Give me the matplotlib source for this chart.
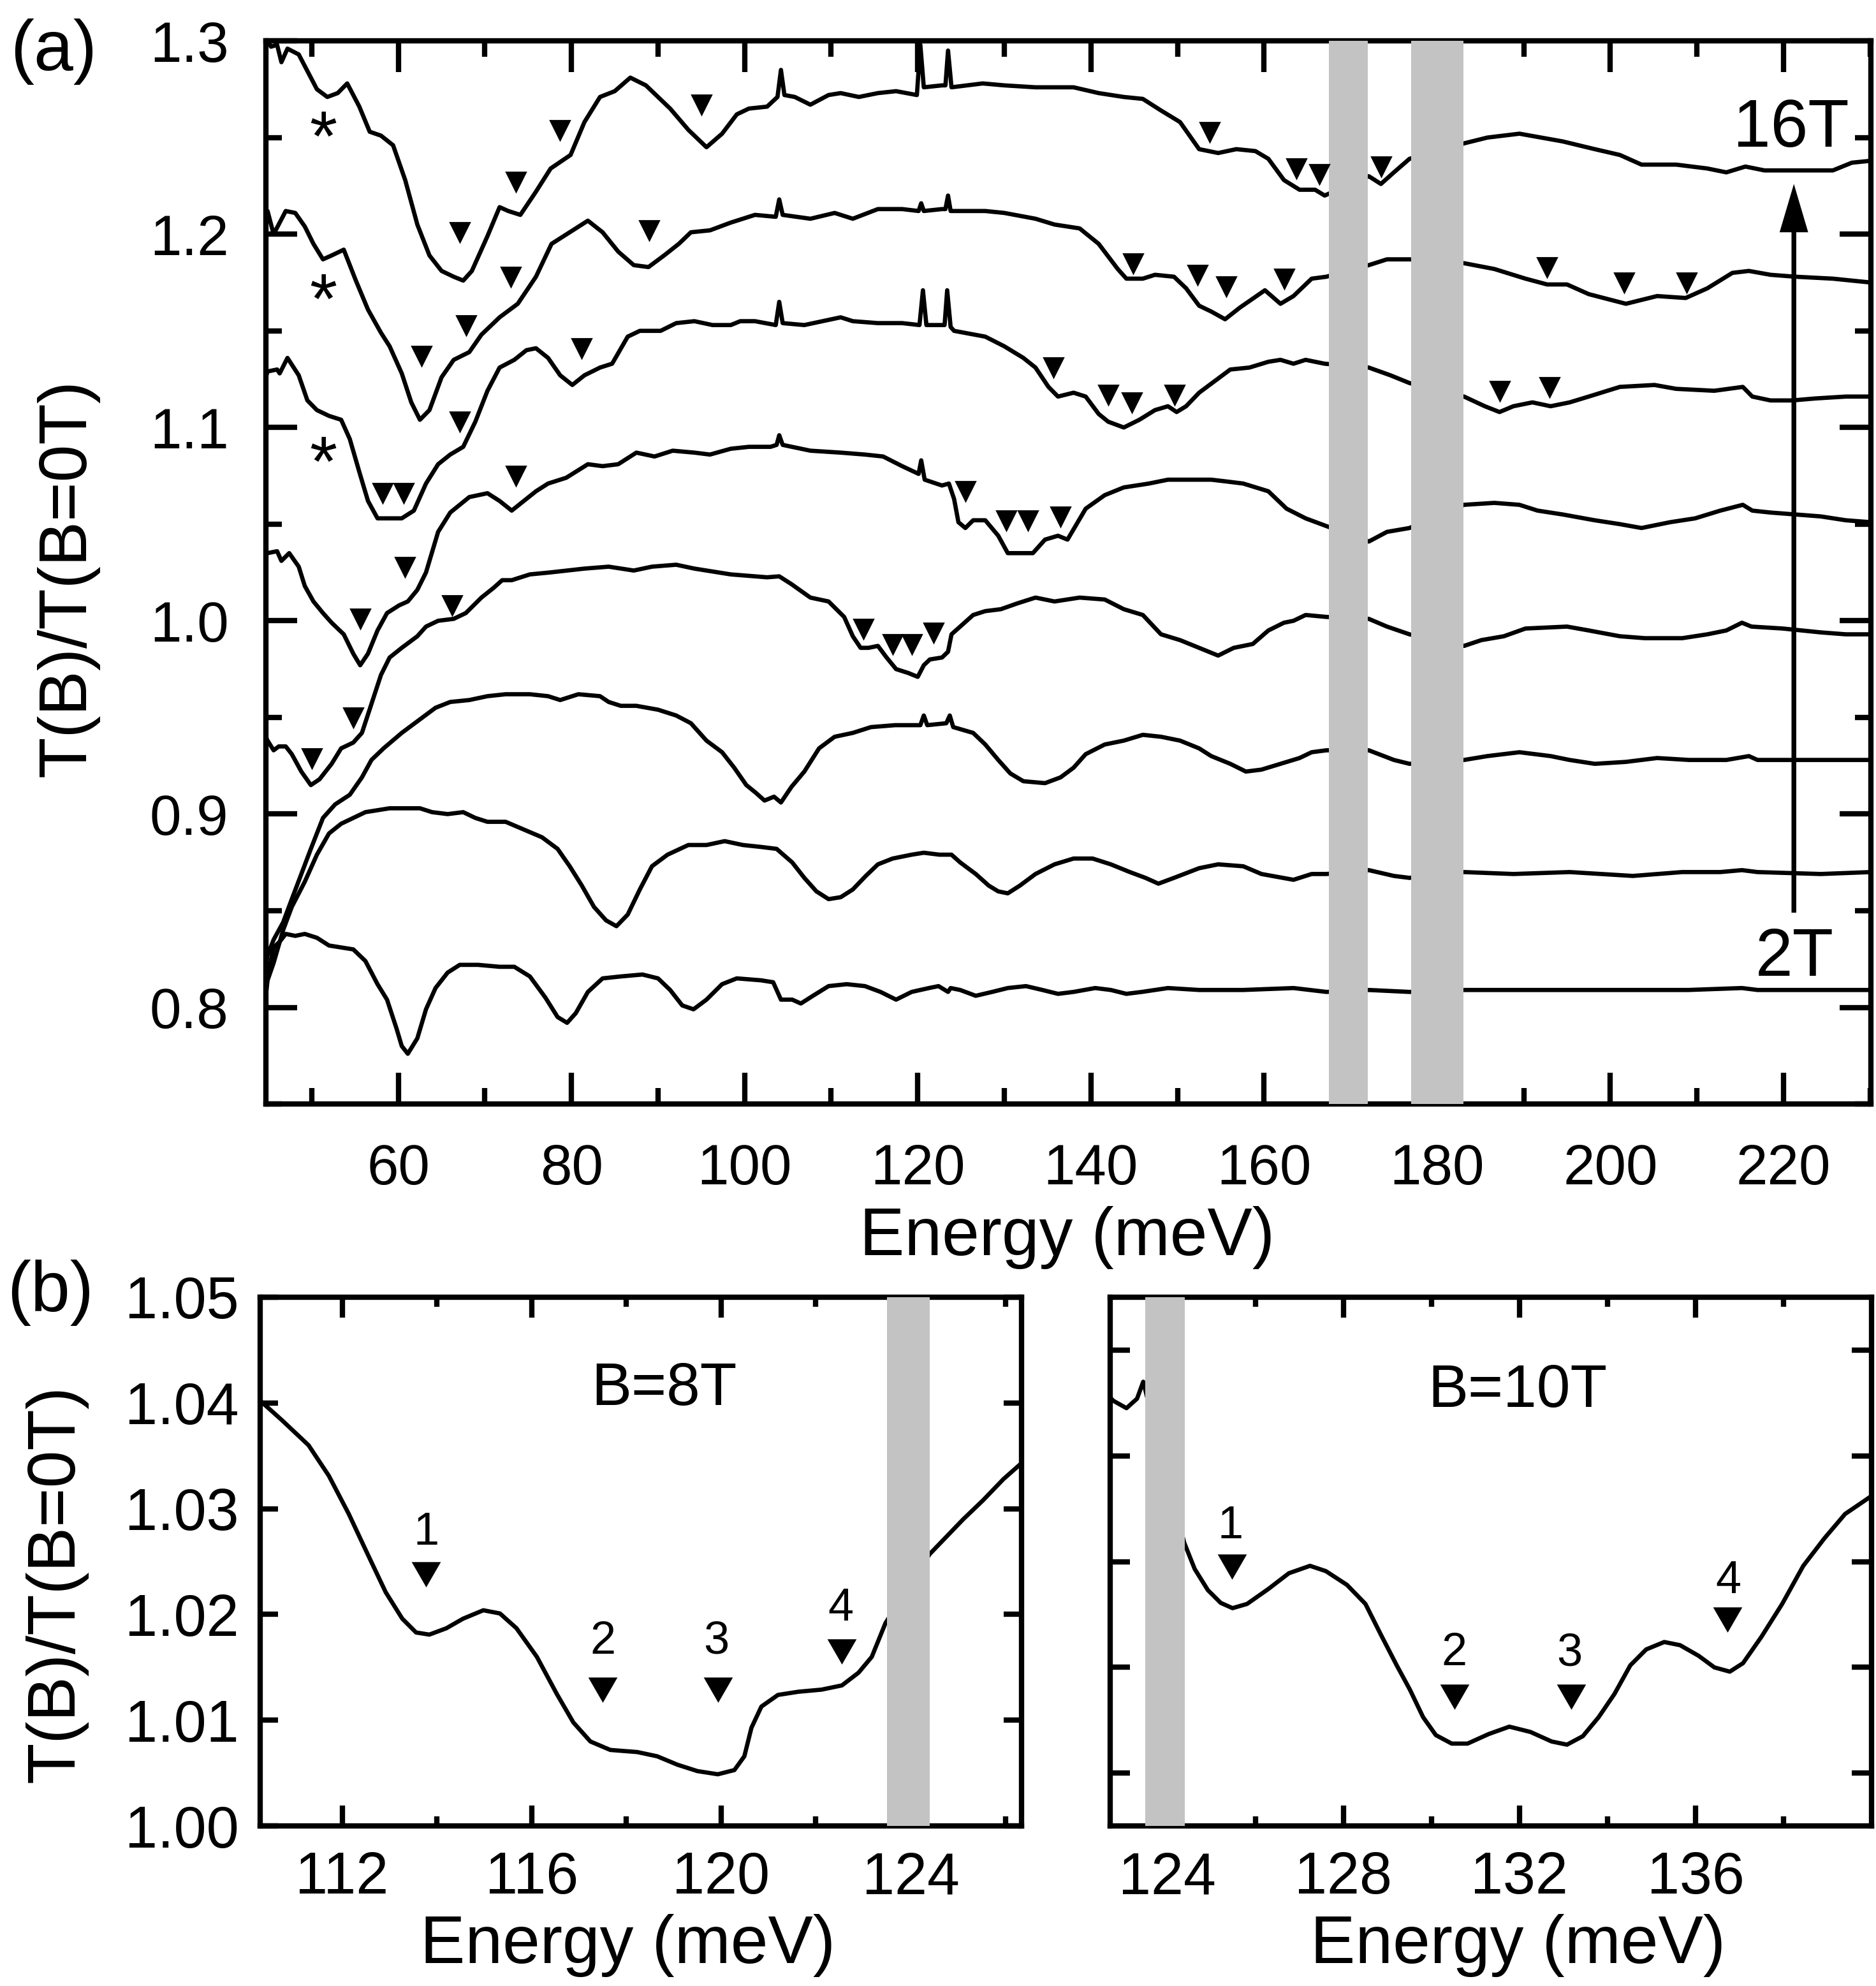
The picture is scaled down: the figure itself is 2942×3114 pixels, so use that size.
import matplotlib.pyplot as plt
from matplotlib.ticker import MultipleLocator, FormatStrFormatter

plt.rcParams['font.family'] = ['Liberation Sans', 'DejaVu Sans']

# ---- panel (a): T(B)/T(B=0T) vs energy (meV), traces stacked
trace_16T = [(44.7, 1.302), (45.3, 1.297), (46.0, 1.298), (46.5, 1.289), (47.2, 1.296), (48.5, 1.293),
             (50.6, 1.275), (51.8, 1.271), (53.0, 1.273), (54.1, 1.278), (55.5, 1.266), (56.7, 1.253),
             (58.0, 1.251), (59.4, 1.246), (60.8, 1.228), (62.2, 1.205), (63.6, 1.189), (65.0, 1.181),
             (66.4, 1.178), (67.5, 1.176), (68.5, 1.181), (70.3, 1.199), (71.7, 1.214), (72.7, 1.212),
             (74.1, 1.210), (75.9, 1.222), (77.6, 1.234), (79.9, 1.241), (81.5, 1.258), (83.3, 1.271),
             (85.0, 1.274), (86.8, 1.281), (88.6, 1.277), (91.4, 1.265), (93.5, 1.254), (95.6, 1.245),
             (97.4, 1.252), (99.1, 1.262), (100.5, 1.265), (102.6, 1.266), (103.8, 1.271), (104.2, 1.285),
             (104.6, 1.272), (105.8, 1.271), (107.6, 1.267), (109.7, 1.272), (111.1, 1.273), (113.2, 1.271),
             (115.4, 1.273), (117.5, 1.274), (119.9, 1.272), (120.3, 1.298), (120.7, 1.276), (122.8, 1.277),
             (123.2, 1.277), (123.5, 1.295), (123.9, 1.276), (127.5, 1.278), (130.0, 1.277), (133.6, 1.276),
             (138.0, 1.276), (140.9, 1.273), (143.8, 1.271), (146.0, 1.270), (148.1, 1.264), (150.3, 1.258),
             (152.5, 1.244), (154.7, 1.242), (156.8, 1.244), (159.0, 1.243), (160.5, 1.239), (162.3, 1.228),
             (164.1, 1.223), (165.9, 1.223), (167.0, 1.220), (172.1, 1.230), (173.5, 1.226), (175.0, 1.232),
             (176.8, 1.239), (183.1, 1.247), (185.8, 1.250), (189.5, 1.252), (194.5, 1.248), (198.2, 1.244),
             (201.1, 1.241), (203.6, 1.236), (207.6, 1.236), (211.2, 1.234), (213.4, 1.232), (215.6, 1.235),
             (217.8, 1.233), (221.4, 1.233), (225.7, 1.233), (227.9, 1.237), (230.1, 1.238)]

trace_14T = [(44.7, 1.205), (44.9, 1.212), (45.6, 1.200), (46.3, 1.206), (47.0, 1.212), (48.1, 1.211),
             (49.2, 1.204), (50.2, 1.195), (51.3, 1.187), (52.3, 1.189), (53.7, 1.192), (55.1, 1.176),
             (56.5, 1.161), (58.0, 1.149), (59.0, 1.142), (60.4, 1.128), (61.5, 1.113), (62.5, 1.104),
             (63.6, 1.109), (65.0, 1.126), (66.4, 1.135), (68.2, 1.139), (69.6, 1.148), (71.7, 1.157),
             (73.8, 1.164), (75.9, 1.178), (77.7, 1.195), (79.8, 1.201), (81.9, 1.207), (83.6, 1.201),
             (85.4, 1.191), (87.2, 1.184), (88.9, 1.183), (90.7, 1.189), (92.4, 1.195), (93.8, 1.201),
             (96.0, 1.202), (98.4, 1.206), (101.2, 1.210), (103.6, 1.209), (104.0, 1.218), (104.4, 1.210),
             (107.6, 1.208), (110.4, 1.211), (112.5, 1.208), (115.4, 1.213), (118.2, 1.213), (120.1, 1.212),
             (120.4, 1.216), (120.7, 1.212), (122.8, 1.213), (123.2, 1.213), (123.5, 1.220), (123.8, 1.212),
             (127.8, 1.212), (130.0, 1.211), (133.6, 1.208), (135.8, 1.205), (138.7, 1.203), (140.9, 1.195),
             (143.1, 1.182), (144.1, 1.177), (146.0, 1.177), (147.4, 1.179), (149.6, 1.178), (151.0, 1.172),
             (152.5, 1.163), (153.9, 1.160), (155.5, 1.156), (157.2, 1.162), (160.1, 1.171), (161.9, 1.164),
             (163.4, 1.168), (165.5, 1.177), (167.2, 1.178), (172.1, 1.184), (174.2, 1.187), (176.8, 1.187),
             (183.1, 1.185), (186.6, 1.182), (190.2, 1.177), (192.7, 1.174), (195.0, 1.174), (197.5, 1.169),
             (201.8, 1.164), (205.4, 1.168), (208.7, 1.167), (211.2, 1.172), (214.1, 1.180), (216.0, 1.181),
             (218.5, 1.179), (221.4, 1.178), (225.7, 1.177), (230.1, 1.175)]

trace_12T = [(44.7, 1.126), (44.9, 1.129), (46.0, 1.130), (46.3, 1.128), (47.2, 1.136), (48.5, 1.127),
             (49.5, 1.114), (50.6, 1.109), (52.0, 1.106), (53.4, 1.104), (54.4, 1.094), (55.5, 1.077),
             (56.5, 1.062), (57.6, 1.053), (60.4, 1.053), (61.8, 1.057), (63.2, 1.071), (64.6, 1.081),
             (66.0, 1.086), (67.5, 1.090), (68.9, 1.103), (70.3, 1.119), (71.7, 1.131), (73.4, 1.135),
             (74.8, 1.140), (75.9, 1.141), (77.3, 1.136), (78.7, 1.127), (80.1, 1.122), (81.5, 1.127),
             (83.3, 1.131), (84.7, 1.133), (86.5, 1.147), (87.9, 1.150), (90.3, 1.150), (92.1, 1.154),
             (94.2, 1.155), (96.3, 1.153), (98.4, 1.153), (99.5, 1.155), (101.2, 1.155), (103.6, 1.153),
             (104.0, 1.165), (104.4, 1.154), (106.9, 1.153), (109.0, 1.155), (111.1, 1.157), (112.5, 1.155),
             (115.4, 1.154), (118.2, 1.154), (120.2, 1.153), (120.6, 1.171), (121.0, 1.153), (122.7, 1.153),
             (123.1, 1.153), (123.4, 1.171), (123.8, 1.152), (124.2, 1.150), (127.8, 1.147), (130.0, 1.142),
             (132.2, 1.136), (133.6, 1.131), (135.1, 1.121), (136.2, 1.116), (138.0, 1.118), (139.4, 1.116),
             (140.9, 1.107), (142.0, 1.103), (143.8, 1.100), (145.6, 1.104), (147.4, 1.109), (148.9, 1.111),
             (149.9, 1.108), (151.0, 1.111), (152.5, 1.118), (154.3, 1.124), (156.1, 1.130), (158.3, 1.131),
             (160.5, 1.134), (161.9, 1.135), (163.4, 1.133), (164.8, 1.135), (167.0, 1.133), (172.1, 1.131),
             (174.6, 1.127), (176.8, 1.123), (183.1, 1.116), (185.5, 1.111), (187.2, 1.108), (188.8, 1.111),
             (191.0, 1.113), (193.1, 1.111), (195.3, 1.113), (197.5, 1.116), (201.1, 1.121), (205.1, 1.122),
             (207.6, 1.120), (212.0, 1.119), (215.3, 1.121), (216.4, 1.116), (218.5, 1.114), (221.0, 1.114),
             (223.6, 1.115), (227.2, 1.116), (230.1, 1.116)]

trace_10T = [(44.7, 1.034), (44.9, 1.035), (46.0, 1.036), (46.5, 1.031), (47.4, 1.035), (48.5, 1.028),
             (49.2, 1.018), (50.2, 1.010), (51.3, 1.004), (52.3, 0.999), (53.7, 0.993), (54.8, 0.983),
             (55.6, 0.977), (56.5, 0.983), (57.6, 0.995), (58.7, 1.004), (60.1, 1.008), (61.1, 1.010),
             (62.2, 1.016), (63.2, 1.025), (64.6, 1.046), (66.0, 1.056), (68.2, 1.064), (70.3, 1.066),
             (71.7, 1.062), (73.1, 1.057), (74.5, 1.062), (75.9, 1.067), (77.3, 1.071), (79.4, 1.074),
             (81.9, 1.081), (83.6, 1.080), (85.4, 1.081), (87.5, 1.087), (89.6, 1.085), (91.7, 1.088),
             (94.2, 1.087), (96.0, 1.086), (98.4, 1.089), (100.5, 1.090), (103.0, 1.090), (103.7, 1.091),
             (104.0, 1.096), (104.4, 1.091), (107.6, 1.088), (111.1, 1.087), (113.9, 1.086), (116.0, 1.085),
             (118.2, 1.080), (120.1, 1.076), (120.4, 1.083), (120.8, 1.073), (122.8, 1.070), (123.6, 1.071),
             (124.2, 1.063), (124.7, 1.051), (125.5, 1.048), (126.4, 1.052), (127.8, 1.052), (129.3, 1.044),
             (130.4, 1.035), (131.8, 1.035), (133.3, 1.035), (134.7, 1.042), (136.2, 1.044), (137.3, 1.042),
             (139.4, 1.058), (141.6, 1.065), (143.8, 1.069), (146.7, 1.071), (148.9, 1.073), (151.0, 1.073),
             (153.9, 1.073), (155.8, 1.072), (157.6, 1.071), (160.5, 1.067), (162.6, 1.058), (164.8, 1.053),
             (167.2, 1.049), (172.1, 1.041), (174.2, 1.046), (176.8, 1.048), (183.1, 1.060), (186.6, 1.061),
             (189.5, 1.060), (191.6, 1.057), (194.5, 1.055), (198.2, 1.052), (201.1, 1.050), (203.6, 1.048),
             (206.9, 1.051), (209.8, 1.053), (212.7, 1.057), (215.3, 1.060), (216.4, 1.057), (218.5, 1.056),
             (221.4, 1.055), (224.3, 1.054), (227.2, 1.052), (230.1, 1.051)]

trace_8T = [(44.7, 0.940), (44.9, 0.938), (45.6, 0.933), (46.2, 0.935), (47.0, 0.935), (47.7, 0.931),
            (48.8, 0.922), (49.9, 0.915), (50.9, 0.918), (52.3, 0.926), (53.4, 0.934), (54.8, 0.937),
            (55.8, 0.942), (56.9, 0.957), (58.0, 0.972), (59.0, 0.981), (60.4, 0.986), (62.2, 0.992),
            (63.2, 0.997), (64.6, 1.000), (66.4, 1.001), (67.8, 1.004), (69.6, 1.012), (71.0, 1.017),
            (72.0, 1.021), (73.1, 1.021), (75.2, 1.024), (77.5, 1.025), (81.5, 1.027), (84.3, 1.028),
            (87.2, 1.026), (89.3, 1.028), (92.1, 1.029), (94.2, 1.027), (98.4, 1.024), (102.6, 1.0225),
            (104.0, 1.023), (105.4, 1.019), (107.6, 1.012), (109.7, 1.010), (111.5, 1.002), (112.5, 0.992),
            (113.4, 0.986), (114.3, 0.986), (115.4, 0.987), (116.4, 0.981), (117.5, 0.975), (118.9, 0.973),
            (120.0, 0.971), (120.7, 0.977), (121.4, 0.980), (122.8, 0.981), (123.5, 0.984), (123.9, 0.993),
            (124.9, 0.997), (126.4, 1.003), (127.8, 1.005), (129.6, 1.006), (131.5, 1.009), (133.6, 1.012),
            (135.8, 1.010), (138.7, 1.012), (141.6, 1.011), (143.8, 1.006), (146.0, 1.003), (148.1, 0.993),
            (150.3, 0.990), (152.5, 0.986), (154.7, 0.982), (156.5, 0.986), (158.7, 0.988), (160.5, 0.995),
            (162.3, 0.999), (163.4, 1.000), (164.8, 1.003), (167.2, 1.002), (172.1, 1.001), (174.2, 0.997),
            (176.8, 0.993), (183.1, 0.987), (185.1, 0.990), (187.7, 0.992), (190.2, 0.996), (195.0, 0.997),
            (197.5, 0.995), (201.1, 0.992), (204.0, 0.991), (208.3, 0.991), (211.2, 0.993), (213.4, 0.995),
            (215.2, 0.999), (216.3, 0.997), (219.9, 0.996), (224.3, 0.994), (227.2, 0.993), (230.1, 0.993)]

trace_6T = [(44.7, 0.822), (44.9, 0.827), (45.6, 0.835), (46.7, 0.844), (47.7, 0.856), (48.8, 0.869),
            (49.9, 0.882), (51.3, 0.898), (52.7, 0.905), (54.4, 0.910), (55.8, 0.919), (56.9, 0.928),
            (58.3, 0.934), (60.4, 0.942), (62.5, 0.949), (64.3, 0.955), (66.0, 0.958), (68.2, 0.959),
            (70.3, 0.961), (72.4, 0.962), (75.2, 0.962), (77.3, 0.961), (78.7, 0.959), (80.8, 0.962),
            (83.3, 0.961), (84.3, 0.958), (85.7, 0.956), (87.5, 0.956), (90.0, 0.954), (92.1, 0.951),
            (93.8, 0.947), (95.6, 0.938), (97.4, 0.932), (98.8, 0.924), (100.2, 0.915), (101.3, 0.911),
            (102.3, 0.907), (103.4, 0.909), (104.2, 0.906), (105.4, 0.914), (106.9, 0.922), (108.6, 0.934),
            (110.4, 0.940), (112.5, 0.942), (114.6, 0.945), (117.4, 0.946), (120.3, 0.946), (120.7, 0.951),
            (121.1, 0.946), (123.3, 0.947), (123.7, 0.951), (124.1, 0.945), (126.4, 0.942), (127.8, 0.936),
            (129.3, 0.928), (130.7, 0.921), (132.2, 0.917), (134.7, 0.916), (136.5, 0.919), (138.0, 0.924),
            (139.4, 0.931), (141.6, 0.936), (143.8, 0.938), (146.0, 0.941), (148.1, 0.940), (150.3, 0.938),
            (152.5, 0.934), (153.9, 0.930), (156.1, 0.926), (157.9, 0.922), (159.7, 0.923), (161.9, 0.926),
            (164.1, 0.929), (165.5, 0.932), (167.2, 0.933), (172.1, 0.933), (175.0, 0.928), (176.8, 0.926),
            (183.1, 0.928), (185.8, 0.930), (189.5, 0.932), (193.1, 0.930), (195.3, 0.928), (198.2, 0.926),
            (201.8, 0.927), (205.4, 0.929), (209.1, 0.928), (213.4, 0.928), (216.0, 0.930), (217.0, 0.928),
            (219.9, 0.928), (224.3, 0.928), (230.1, 0.928)]

trace_4T = [(44.7, 0.806), (44.9, 0.814), (45.6, 0.823), (46.7, 0.840), (47.7, 0.852), (49.2, 0.865),
            (50.6, 0.879), (52.0, 0.890), (53.4, 0.895), (54.8, 0.898), (56.2, 0.901), (57.6, 0.902),
            (59.0, 0.903), (60.8, 0.903), (62.5, 0.903), (63.9, 0.901), (65.7, 0.900), (67.5, 0.901),
            (68.9, 0.898), (70.3, 0.896), (72.4, 0.896), (74.5, 0.892), (76.6, 0.888), (78.4, 0.882),
            (79.8, 0.873), (81.2, 0.863), (82.6, 0.852), (84.0, 0.845), (85.2, 0.842), (86.5, 0.848),
            (87.9, 0.861), (89.3, 0.873), (91.1, 0.879), (93.5, 0.884), (95.6, 0.884), (97.7, 0.886),
            (99.8, 0.884), (101.9, 0.883), (103.7, 0.882), (105.5, 0.875), (106.9, 0.867), (108.3, 0.860),
            (109.7, 0.856), (111.1, 0.857), (112.5, 0.861), (114.0, 0.868), (115.4, 0.874), (117.1, 0.877),
            (119.3, 0.879), (120.7, 0.880), (122.5, 0.879), (123.9, 0.879), (124.9, 0.875), (126.7, 0.869),
            (128.2, 0.863), (129.3, 0.860), (130.4, 0.859), (131.8, 0.863), (133.6, 0.869), (135.8, 0.874),
            (138.0, 0.877), (140.2, 0.877), (142.3, 0.874), (144.5, 0.870), (146.3, 0.867), (147.8, 0.864),
            (149.6, 0.867), (152.5, 0.872), (154.7, 0.874), (157.6, 0.873), (159.7, 0.869), (163.4, 0.866),
            (165.5, 0.869), (167.2, 0.869), (172.1, 0.871), (175.0, 0.868), (176.8, 0.867), (183.1, 0.870),
            (188.8, 0.869), (195.3, 0.870), (202.6, 0.868), (208.3, 0.870), (212.7, 0.870), (215.2, 0.871),
            (217.0, 0.870), (224.3, 0.869), (230.1, 0.870)]

trace_2T = [(44.7, 0.808), (44.9, 0.816), (45.6, 0.831), (46.3, 0.834), (47.0, 0.838), (48.1, 0.837),
            (49.2, 0.838), (50.6, 0.836), (52.0, 0.832), (53.4, 0.831), (54.8, 0.830), (56.2, 0.824),
            (57.6, 0.812), (58.7, 0.804), (59.8, 0.789), (60.4, 0.780), (61.1, 0.776), (62.2, 0.784),
            (63.2, 0.799), (64.3, 0.810), (65.7, 0.818), (67.1, 0.822), (69.2, 0.822), (71.7, 0.821),
            (73.4, 0.821), (75.2, 0.816), (77.0, 0.805), (78.4, 0.795), (79.5, 0.792), (80.5, 0.797),
            (81.9, 0.808), (83.6, 0.815), (85.7, 0.816), (88.2, 0.817), (90.0, 0.815), (91.4, 0.809),
            (92.8, 0.801), (94.1, 0.799), (95.6, 0.804), (97.4, 0.812), (99.1, 0.815), (101.9, 0.814),
            (103.3, 0.813), (104.2, 0.804), (105.5, 0.804), (106.5, 0.802), (107.9, 0.806), (109.7, 0.811),
            (111.8, 0.812), (113.9, 0.811), (115.7, 0.808), (117.5, 0.804), (119.3, 0.808), (121.3, 0.810),
            (122.4, 0.811), (123.5, 0.808), (123.8, 0.810), (124.9, 0.809), (126.7, 0.806), (128.6, 0.808),
            (130.4, 0.810), (132.5, 0.811), (134.4, 0.809), (136.2, 0.807), (138.0, 0.808), (140.5, 0.810),
            (142.3, 0.809), (144.1, 0.807), (145.9, 0.808), (148.9, 0.810), (152.5, 0.809), (157.6, 0.809),
            (163.4, 0.810), (167.2, 0.808), (172.1, 0.809), (176.8, 0.808), (183.1, 0.809), (196.7, 0.809),
            (209.0, 0.809), (215.2, 0.810), (217.0, 0.809), (230.1, 0.809)]

traces_a = [trace_2T, trace_4T, trace_6T, trace_8T, trace_10T, trace_12T, trace_14T, trace_16T]

# triangles marking transitions, and the asterisks
tri_a = [(78.7, 1.254), (73.6, 1.227), (67.1, 1.201), (95.0, 1.267), (153.7, 1.253), (163.7, 1.234),
         (166.4, 1.231), (173.5, 1.235),
         (73.0, 1.178), (67.8, 1.153), (62.7, 1.137), (89.0, 1.202), (144.9, 1.185), (152.3, 1.179),
         (155.6, 1.173), (162.3, 1.177), (192.7, 1.183), (201.6, 1.175), (208.8, 1.175),
         (58.2, 1.066), (60.6, 1.066), (67.1, 1.103), (81.2, 1.141), (135.7, 1.131), (142.0, 1.117),
         (144.7, 1.113), (149.7, 1.117), (187.2, 1.119), (193.0, 1.121),
         (55.6, 1.001), (60.8, 1.028), (66.2, 1.008), (73.6, 1.075), (125.5, 1.067), (130.2, 1.052),
         (132.7, 1.052), (136.5, 1.054),
         (50.0, 0.929), (54.8, 0.950), (113.7, 0.996), (117.1, 0.988), (119.3, 0.988), (121.8, 0.994)]
star_a = [(51.3, 1.259), (51.3, 1.175), (51.3, 1.091)]

bands_a = [(167.5, 172.0), (177.0, 183.0)]

# ---- panel (b): zoom on B=8T and B=10T
trace_b8 = [(110.27, 1.0402), (110.72, 1.0384), (111.29, 1.0360), (111.72, 1.0331), (112.14, 1.0295),
            (112.57, 1.0254), (112.92, 1.0221), (113.27, 1.0196), (113.56, 1.0183), (113.84, 1.0181),
            (114.20, 1.0187), (114.55, 1.0196), (114.98, 1.0204), (115.33, 1.0201), (115.68, 1.0187),
            (116.11, 1.0160), (116.53, 1.0125), (116.88, 1.0098), (117.24, 1.0080), (117.66, 1.0072),
            (118.23, 1.0070), (118.65, 1.0066), (119.08, 1.0058), (119.50, 1.0052), (119.93, 1.0049),
            (120.28, 1.0053), (120.49, 1.0066), (120.64, 1.0093), (120.85, 1.0113), (121.20, 1.0124),
            (121.63, 1.0127), (122.12, 1.0129), (122.55, 1.0133), (122.90, 1.0145), (123.18, 1.0160),
            (123.47, 1.0192), (124.40, 1.0257), (124.68, 1.0270), (125.11, 1.0290), (125.53, 1.0308),
            (125.96, 1.0328), (126.34, 1.0343)]
tri_b8 = [(113.77, 1.0242), (117.50, 1.0133), (119.93, 1.0133), (122.55, 1.0169)]
num_b8 = [(113.77, 1.0266), (117.50, 1.0163), (119.90, 1.0163), (122.52, 1.0194)]

trace_b10 = [(122.70, 1.0655), (122.77, 1.0652), (123.07, 1.0645), (123.31, 1.0654), (123.45, 1.0670),
             (124.38, 1.0518), (124.62, 1.0493), (124.92, 1.0473), (125.21, 1.0461), (125.48, 1.0456),
             (125.81, 1.0460), (126.29, 1.0474), (126.76, 1.0489), (127.24, 1.0496), (127.60, 1.0491),
             (128.08, 1.0478), (128.50, 1.0460), (128.85, 1.0431), (129.21, 1.0402), (129.51, 1.0379),
             (129.81, 1.0353), (130.10, 1.0336), (130.46, 1.0328), (130.82, 1.0328), (131.30, 1.0337),
             (131.77, 1.0344), (132.25, 1.0339), (132.73, 1.0330), (133.08, 1.0327), (133.44, 1.0335),
             (133.80, 1.0353), (134.16, 1.0375), (134.52, 1.0402), (134.88, 1.0417), (135.29, 1.0424),
             (135.65, 1.0421), (136.07, 1.0411), (136.43, 1.0400), (136.78, 1.0396), (137.08, 1.0404),
             (137.50, 1.0429), (137.97, 1.0460), (138.45, 1.0496), (138.93, 1.0522), (139.40, 1.0545),
             (140.00, 1.0562)]
tri_b10 = [(125.46, 1.0499), (130.52, 1.0376), (133.18, 1.0376), (136.73, 1.0449)]
num_b10 = [(125.43, 1.0522), (130.52, 1.0402), (133.14, 1.0402), (136.75, 1.0470)]

band_b = (123.5, 124.4)
peak_labels = ['1', '2', '3', '4']
b10_major = [124, 128, 132, 136]
b10_minor = [126, 130, 134, 138]

LW = 2.4
SPINE = 3.0
GREY = '#c3c3c3'

fig = plt.figure(figsize=(14.71, 15.57), dpi=200)


def style(ax, major, minor, width=3.0):
    for s in ax.spines.values():
        s.set_linewidth(SPINE)
    ax.tick_params(which='both', direction='in', top=True, right=True, width=width)
    ax.tick_params(which='major', length=major)
    ax.tick_params(which='minor', length=minor)


# ---------------- panel (a)
ax = fig.add_axes([0.1417, 0.4441, 0.8556, 0.5353])
for tr in traces_a:
    e, t = zip(*tr)
    ax.plot(e, t, color='k', lw=LW, zorder=2)
for lo, hi in bands_a:
    ax.axvspan(lo, hi, color=GREY, lw=0, zorder=3)
te, tt = zip(*tri_a)
ax.plot(te, tt, 'v', color='k', ms=11, ls='none', zorder=4)
for x, y in star_a:
    ax.annotate('*', xy=(x, y), xytext=(0, -23), textcoords='offset points',
                ha='center', va='baseline', fontsize=40)
ax.arrow(221.2, 0.849, 0, 1.226 - 0.849, width=0.55, head_width=3.3, head_length=0.025,
         length_includes_head=True, color='k', lw=0, zorder=5)
ax.text(227.6, 1.2453, '16T', ha='right', va='baseline', fontsize=38)
ax.text(225.8, 0.8162, '2T', ha='right', va='baseline', fontsize=38)

ax.set_xlim(44.7, 230.1)
ax.set_ylim(0.75, 1.30)
ax.xaxis.set_major_locator(MultipleLocator(20))
ax.xaxis.set_minor_locator(MultipleLocator(10))
ax.yaxis.set_major_locator(MultipleLocator(0.1))
ax.yaxis.set_minor_locator(MultipleLocator(0.05))
ax.yaxis.set_major_formatter(FormatStrFormatter('%.1f'))
style(ax, 17.5, 9)
ax.tick_params(axis='both', labelsize=32)
ax.tick_params(axis='x', pad=22)
ax.tick_params(axis='y', pad=21)

# ---------------- panel (b), left: B=8T
ax1 = fig.add_axes([0.1387, 0.0805, 0.4058, 0.2664])
e, t = zip(*trace_b8)
ax1.plot(e, t, color='k', lw=LW, zorder=2)
ax1.axvspan(*band_b, color=GREY, lw=0, zorder=3)
te, tt = zip(*tri_b8)
ax1.plot(te, tt, marker=(3, 0, 180), color='k', ms=17, ls='none', zorder=4)
for (x, y), s in zip(num_b8, peak_labels):
    ax1.text(x, y, s, ha='center', va='baseline', fontsize=26)
ax1.text(118.8, 1.0398, 'B=8T', ha='center', va='baseline', fontsize=34)
ax1.set_xlim(110.27, 126.34)
ax1.set_ylim(1.00, 1.05)
ax1.xaxis.set_major_locator(MultipleLocator(4))
ax1.xaxis.set_minor_locator(MultipleLocator(2))
ax1.yaxis.set_major_locator(MultipleLocator(0.01))
ax1.yaxis.set_major_formatter(FormatStrFormatter('%.2f'))
style(ax1, 11.5, 5.5)
ax1.tick_params(axis='y', which='major', length=10)
ax1.tick_params(axis='both', labelsize=33)
ax1.tick_params(axis='x', pad=14)
ax1.tick_params(axis='y', pad=12)

# ---------------- panel (b), right: B=10T
ax2 = fig.add_axes([0.5918, 0.0805, 0.4058, 0.2664])
e, t = zip(*trace_b10)
ax2.plot(e, t, color='k', lw=LW, zorder=2)
ax2.axvspan(*band_b, color=GREY, lw=0, zorder=3)
te, tt = zip(*tri_b10)
ax2.plot(te, tt, marker=(3, 0, 180), color='k', ms=17, ls='none', zorder=4)
for (x, y), s in zip(num_b10, peak_labels):
    ax2.text(x, y, s, ha='center', va='baseline', fontsize=26)
ax2.text(131.95, 1.0646, 'B=10T', ha='center', va='baseline', fontsize=34)
ax2.set_xlim(122.7, 140.0)
ax2.set_ylim(1.025, 1.075)
ax2.set_xticks(b10_major)
ax2.set_xticks(b10_minor, minor=True)
ax2.yaxis.set_major_locator(MultipleLocator(0.01))
style(ax2, 11.5, 5.5)
ax2.tick_params(axis='y', which='major', length=11)
ax2.tick_params(axis='both', labelsize=33)
ax2.tick_params(axis='x', pad=14)
ax2.tick_params(axis='y', labelleft=False)

# ---------------- labels
fig.text(0.0285, 0.974, '(a)', ha='center', va='center', fontsize=40)
fig.text(0.027, 0.349, '(b)', ha='center', va='center', fontsize=40)
fig.text(0.036, 0.709, 'T(B)/T(B=0T)', rotation=90, ha='center', va='center', fontsize=38)
fig.text(0.030, 0.2027, 'T(B)/T(B=0T)', rotation=90, ha='center', va='center', fontsize=38)
fig.text(0.5687, 0.377, 'Energy (meV)', ha='center', va='center', fontsize=38)
fig.text(0.3346, 0.0205, 'Energy (meV)', ha='center', va='center', fontsize=38)
fig.text(0.8093, 0.0205, 'Energy (meV)', ha='center', va='center', fontsize=38)

fig.savefig('out.png', dpi=200)
